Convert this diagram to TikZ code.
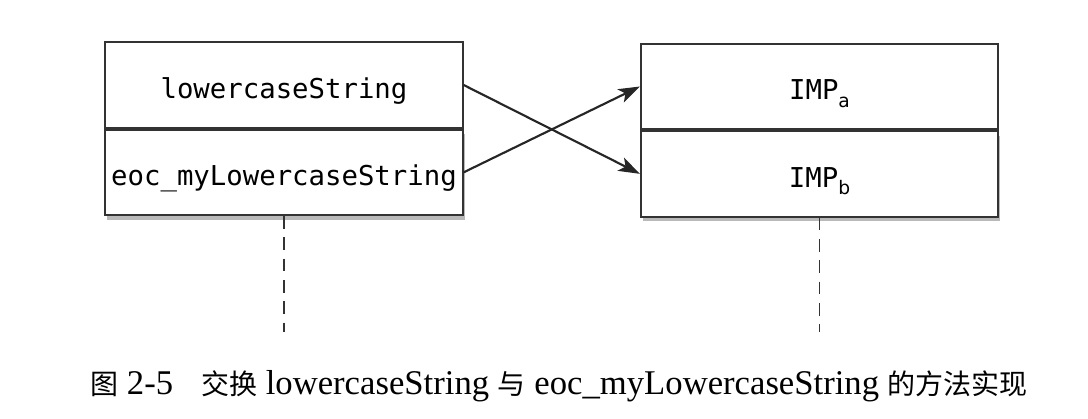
\documentclass[tikz,border=0pt]{standalone}
\usepackage{fontspec}
\setmainfont{Liberation Serif}
\newfontfamily\cjk{Noto Sans CJK SC}
\newfontfamily\boxfont{DejaVu Sans Mono}
\newfontfamily\subfont{DejaVu Sans}
\usetikzlibrary{arrows.meta,shadows}

\tikzset{
  cell/.style={draw=black!80, line width=1.5pt, fill=white, minimum width=268pt,
    minimum height=64pt, inner sep=0pt, text height=24pt, text depth=4pt,
    font=\boxfont\fontsize{20.5}{24}\selectfont},
  cellshadow/.style={drop shadow={shadow xshift=1.5pt, shadow yshift=-3.5pt,
    fill=black!50, opacity=0.55}},
  swap/.style={line width=1.6pt, draw=black!85,
    -{Stealth[length=16pt,width=11pt,inset=4pt]}},
  life/.style={line width=1.4pt, draw=black!80, dash pattern=on 9.5pt off 6.5pt},
}
\newcommand{\impsub}[1]{IMP\raisebox{-0.5ex}{\subfont\fontsize{14}{14}\selectfont #1}}
\newcommand{\capcjk}[1]{{\cjk\fontsize{21}{21}\selectfont #1}}

\begin{document}
\begin{tikzpicture}[x=0.75pt,y=-0.75pt]
\useasboundingbox (0,0) rectangle (1088,418);

\coordinate (lc) at (284,85);
\coordinate (rc) at (819.5,86.5);
\coordinate (lend) at (0,332);

% selectors
\node[cell] (lsel) at (lc) {lowercaseString};
\node[cell, cellshadow, anchor=north] (esel) at (lsel.south) {eoc\_myLowercaseString};

% implementations
\node[cell] (impa) at (rc) {\impsub{a}};
\node[cell, cellshadow, anchor=north] (impb) at (impa.south) {\impsub{b}};

\draw[swap] (lsel.east) -- (impb.west);
\draw[swap] (esel.east) -- (impa.west);

\draw[life] (esel.south) -- (esel.south |- lend);
\draw[life] (impb.south) -- (impb.south |- lend);

\node[anchor=base west, inner sep=0pt, font=\fontsize{26}{30}\selectfont] (cap) at (90,394)
  {\capcjk{图} 2-5\hspace{21pt}\capcjk{交换} lowercaseString \capcjk{与} eoc\_myLowercaseString \capcjk{的方法实现}};

\end{tikzpicture}
\end{document}
